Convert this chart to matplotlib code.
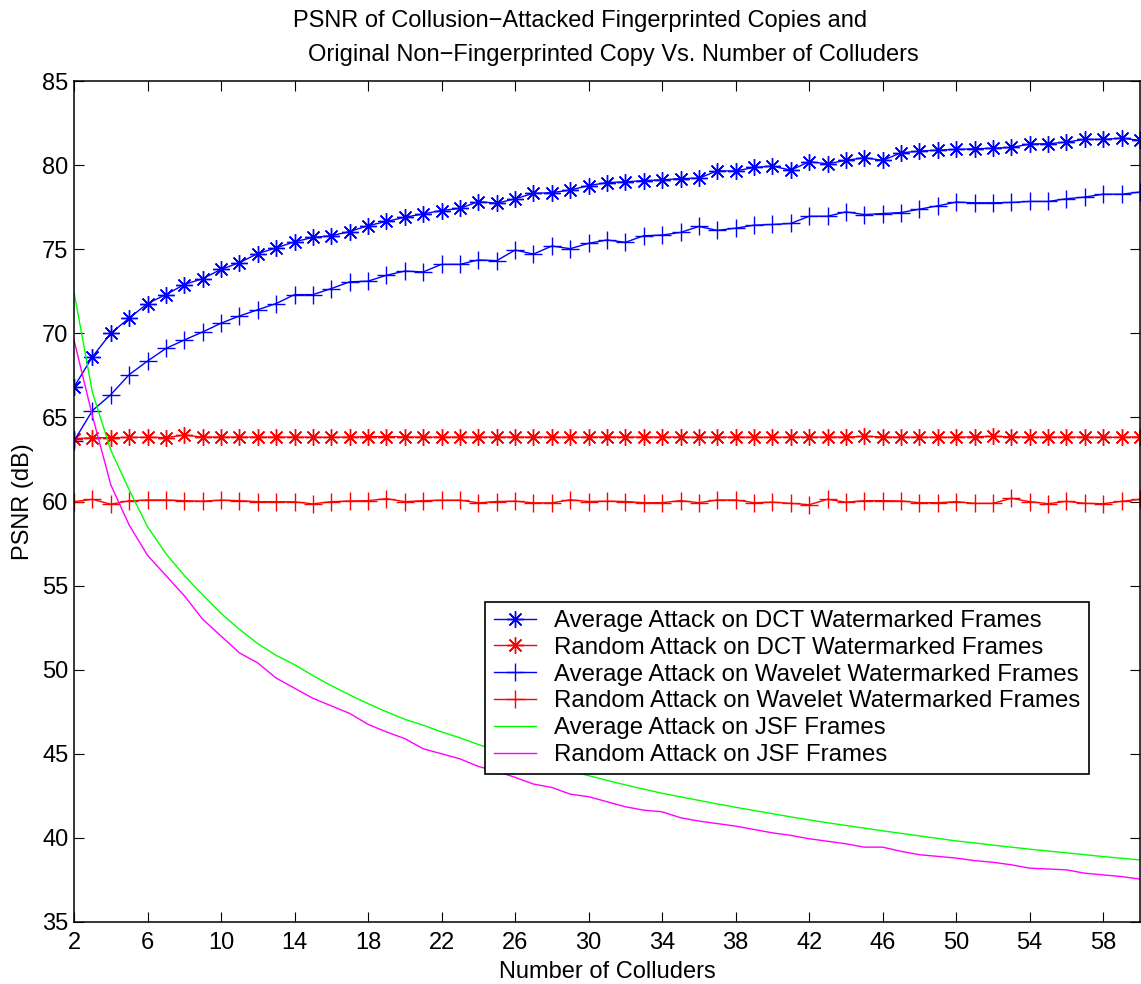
import numpy as np
import matplotlib
matplotlib.use("Agg")
import matplotlib.pyplot as plt

plt.rcParams['font.family'] = ['Liberation Sans', 'DejaVu Sans']

colluders = list(range(2, 61))

avg_dct = [66.8, 68.6, 70.0, 70.9, 71.77, 72.3, 72.9, 73.25, 73.8, 74.2,
           74.74, 75.08, 75.44, 75.7, 75.8, 76.05, 76.4, 76.65, 76.9, 77.1,
           77.3, 77.43, 77.83, 77.73, 78.0, 78.32, 78.36, 78.52, 78.78, 78.96,
           79.0, 79.08, 79.12, 79.2, 79.22, 79.66, 79.65, 79.86, 79.94, 79.7,
           80.2, 80.08, 80.28, 80.44, 80.28, 80.73, 80.83, 80.89, 80.93, 80.97,
           81.0, 81.05, 81.25, 81.27, 81.37, 81.53, 81.53, 81.6, 81.47]

rand_dct = [63.74, 63.78, 63.8, 63.81, 63.82, 63.8, 63.95, 63.83, 63.83, 63.83,
            63.83, 63.83, 63.83, 63.82, 63.82, 63.83, 63.85, 63.86, 63.84, 63.83,
            63.83, 63.83, 63.83, 63.83, 63.83, 63.83, 63.83, 63.82, 63.83, 63.84,
            63.83, 63.83, 63.83, 63.83, 63.82, 63.83, 63.83, 63.82, 63.82, 63.83,
            63.83, 63.83, 63.83, 63.87, 63.84, 63.82, 63.83, 63.82, 63.82, 63.85,
            63.87, 63.85, 63.83, 63.83, 63.83, 63.83, 63.82, 63.82, 63.84]

avg_wav = [63.6, 65.4, 66.35, 67.54, 68.35, 69.1, 69.6, 70.08, 70.6, 71.03,
           71.4, 71.77, 72.3, 72.3, 72.66, 73.06, 73.1, 73.45, 73.7, 73.65,
           74.1, 74.1, 74.36, 74.32, 74.95, 74.71, 75.19, 75.03, 75.35, 75.55,
           75.41, 75.8, 75.84, 76.0, 76.35, 76.12, 76.25, 76.43, 76.47, 76.53,
           76.96, 76.96, 77.22, 77.06, 77.12, 77.18, 77.38, 77.58, 77.8, 77.76,
           77.76, 77.78, 77.84, 77.84, 78.0, 78.1, 78.27, 78.27, 78.4]

rand_wav = [59.99, 60.13, 59.84, 60.04, 60.09, 60.09, 60.05, 60.02, 60.08, 60.05,
            59.99, 59.99, 59.98, 59.86, 59.99, 60.03, 60.05, 60.17, 59.99, 60.05,
            60.08, 60.08, 59.92, 60.0, 60.02, 59.92, 59.92, 60.1, 60.0, 60.02,
            60.0, 59.93, 59.93, 60.05, 59.93, 60.09, 60.09, 59.93, 59.96, 59.89,
            59.81, 60.13, 59.96, 60.05, 60.05, 60.03, 59.93, 59.93, 59.99, 59.89,
            59.89, 60.19, 59.99, 59.87, 60.01, 59.89, 59.87, 60.01, 60.13]

avg_jsf = [72.45, 66.5, 63.05, 60.7, 58.5, 56.9, 55.6, 54.45, 53.35, 52.4,
           51.55, 50.85, 50.3, 49.65, 49.05, 48.5, 47.98, 47.5, 47.05, 46.7,
           46.3, 45.95, 45.55, 45.2, 44.9, 44.55, 44.25, 43.98, 43.7, 43.42,
           43.15, 42.9, 42.65, 42.44, 42.23, 42.02, 41.82, 41.63, 41.44, 41.25,
           41.07, 40.9, 40.74, 40.58, 40.42, 40.27, 40.12, 39.97, 39.82, 39.7,
           39.57, 39.45, 39.33, 39.22, 39.11, 39.0, 38.89, 38.79, 38.69]

rand_jsf = [69.6, 65.1, 61.0, 58.6, 56.8, 55.6, 54.4, 53.0, 52.0, 51.0,
            50.4, 49.5, 48.9, 48.3, 47.85, 47.4, 46.75, 46.3, 45.9, 45.3,
            45.0, 44.7, 44.25, 43.95, 43.6, 43.2, 43.0, 42.6, 42.45, 42.15,
            41.85, 41.65, 41.55, 41.2, 41.0, 40.85, 40.7, 40.5, 40.3, 40.15,
            39.95, 39.8, 39.65, 39.45, 39.45, 39.2, 39.0, 38.9, 38.8, 38.65,
            38.55, 38.4, 38.2, 38.15, 38.1, 37.9, 37.8, 37.7, 37.55]

labels = ["Average Attack on DCT Watermarked Frames",
          "Random Attack on DCT Watermarked Frames",
          "Average Attack on Wavelet Watermarked Frames",
          "Random Attack on Wavelet Watermarked Frames",
          "Average Attack on JSF Frames",
          "Random Attack on JSF Frames"]

x_ticks = list(range(2, 59, 4))
y_ticks = list(range(35, 86, 5))

W, H = 1141, 984
FS = 17
fig = plt.figure(figsize=(W / 100, H / 100), dpi=100)
ax = fig.add_axes([74 / W, (H - 922) / H, 1066 / W, 841 / H])

star = (8, 2, 0)
lw = 1.0
ms = 12
ax.plot(colluders, avg_dct, color=(0, 0, 1), lw=lw, marker=star, ms=ms, mew=1.0, label=labels[0])
ax.plot(colluders, rand_dct, color=(1, 0, 0), lw=lw, marker=star, ms=ms, mew=1.0, label=labels[1])
ax.plot(colluders, avg_wav, color=(0, 0, 1), lw=lw, marker='+', ms=ms + 1, mew=1.0, label=labels[2])
ax.plot(colluders, rand_wav, color=(1, 0, 0), lw=lw, marker='+', ms=ms + 1, mew=1.0, label=labels[3])
ax.plot(colluders, avg_jsf, color=(0, 1, 0), lw=lw, label=labels[4])
ax.plot(colluders, rand_jsf, color=(1, 0, 1), lw=lw, label=labels[5])

ax.set_xlim(2, 60)
ax.set_ylim(35, 85)
ax.set_xticks(x_ticks)
ax.set_yticks(y_ticks)
ax.tick_params(direction='in', length=7.5, width=0.8, top=True, right=True,
               labelsize=FS, colors='black')
ax.tick_params(axis='x', pad=7)
ax.tick_params(axis='y', pad=4)
for s in ax.spines.values():
    s.set_linewidth(1.1)

ax.set_xlabel("Number of Colluders", fontsize=FS, labelpad=5)
ax.set_ylabel("PSNR (dB)", fontsize=FS, labelpad=6)

fig.text(580 / W, 1 - 21 / H, "PSNR of Collusion\u2212Attacked Fingerprinted Copies and",
         ha='center', va='center', fontsize=FS)
fig.text(613 / W, 1 - 55 / H, "Original Non\u2212Fingerprinted Copy Vs. Number of Colluders",
         ha='center', va='center', fontsize=FS)

leg = ax.legend(loc='upper left', bbox_to_anchor=(0.386, 0.381), borderaxespad=0,
                prop={'size': 17.3}, frameon=True, fancybox=False, framealpha=1,
                edgecolor='black', handlelength=1.75, handletextpad=0.75,
                labelspacing=0.2, borderpad=0.35, markerscale=1.0)
leg.get_frame().set_linewidth(1.2)

fig.savefig("out.png", dpi=100)
